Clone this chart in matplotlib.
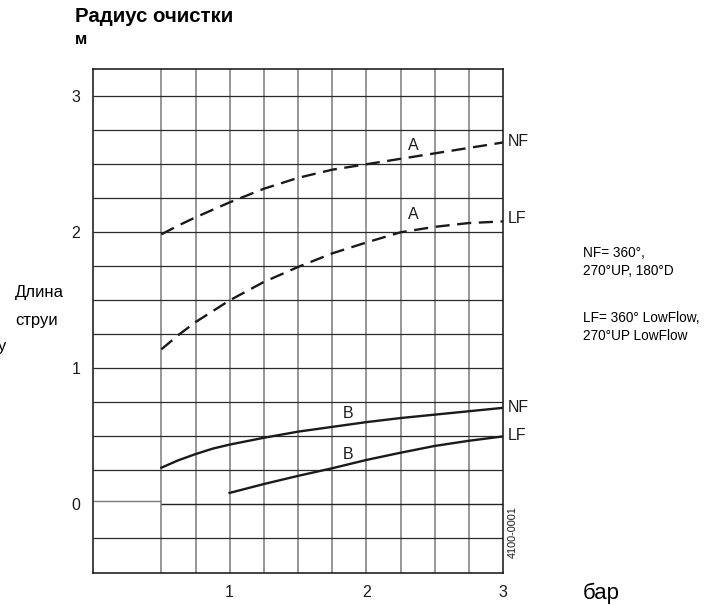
import numpy as np
import matplotlib.pyplot as plt

plt.rcParams['font.family'] = ['Liberation Sans', 'DejaVu Sans']

# --- data (pressure in bar, throw radius in m) ---
a_nf_x = [0.5, 0.625, 0.75, 1.0, 1.25, 1.5, 1.75, 2.0, 2.25, 2.5, 2.75, 3.0]
a_nf_y = [1.985, 2.05, 2.11, 2.22, 2.32, 2.40, 2.46, 2.50, 2.54, 2.58, 2.62, 2.66]

a_lf_x = [0.5, 0.625, 0.75, 1.0, 1.25, 1.5, 1.75, 2.0, 2.25, 2.5, 2.75, 3.0]
a_lf_y = [1.14, 1.245, 1.34, 1.50, 1.635, 1.745, 1.845, 1.925, 2.0, 2.04, 2.068, 2.08]

b_nf_x = [0.5, 0.625, 0.75, 0.875, 1.0, 1.25, 1.5, 1.75, 2.0, 2.25, 2.5, 2.75, 3.0]
b_nf_y = [0.27, 0.325, 0.37, 0.41, 0.44, 0.49, 0.535, 0.57, 0.605, 0.635,
          0.66, 0.685, 0.71]

b_lf_x = [1.0, 1.25, 1.5, 1.75, 2.0, 2.25, 2.5, 2.75, 3.0]
b_lf_y = [0.085, 0.15, 0.21, 0.266, 0.327, 0.38, 0.43, 0.468, 0.50]

x_ticks = [1, 2, 3]
y_ticks = [0, 1, 2, 3]
v_grid = [0.5, 0.75, 1.0, 1.25, 1.5, 1.75, 2.0, 2.25, 2.5, 2.75]
h_grid = [-0.25, 0.0, 0.25, 0.5, 0.75, 1.0, 1.25, 1.5, 1.75, 2.0,
          2.25, 2.5, 2.75, 3.0]

fig = plt.figure(figsize=(7.26, 6.05), dpi=100)
ax = fig.add_axes([93 / 726, 1 - 572.5 / 605, 410 / 726, 503.5 / 605])
ax.set_xlim(0, 3)
ax.set_ylim(-0.5, 3.2)

# grid: no vertical lines left of 0.5, zero line is offset in left cell
ax.vlines(v_grid, -0.5, 3.2, colors='#7a7a7a', lw=1.1, zorder=1)
for h in h_grid:
    if h == 0.0:
        ax.hlines(0.0, 0.5, 3, colors='#222222', lw=1.0, zorder=1)
        ax.hlines(0.022, 0, 0.5, colors='#7a7a7a', lw=1.0, zorder=1)
    else:
        ax.hlines(h, 0, 3, colors='#2a2a2a', lw=0.9, zorder=1)

dash = dict(color='#1a1a1a', lw=1.7, ls=(0, (6, 3.2)), zorder=3)
solid = dict(color='#1a1a1a', lw=1.7, zorder=3)
ax.plot(a_nf_x, a_nf_y, **dash)
ax.plot(a_lf_x, a_lf_y, **dash)
ax.plot(b_nf_x, b_nf_y, **solid)
ax.plot(b_lf_x, b_lf_y, **solid)

lab = dict(fontsize=11.5, color='#1a1a1a', va='center')
ax.text(2.345, 2.64, 'A', ha='center', **lab)
ax.text(2.345, 2.13, 'A', ha='center', **lab)
ax.text(1.865, 0.67, 'B', ha='center', **lab)
ax.text(1.865, 0.37, 'B', ha='center', **lab)
ax.text(3.035, 2.665, 'NF', ha='left', clip_on=False, **lab)
ax.text(3.035, 2.10, 'LF', ha='left', clip_on=False, **lab)
ax.text(3.035, 0.71, 'NF', ha='left', clip_on=False, **lab)
ax.text(3.035, 0.51, 'LF', ha='left', clip_on=False, **lab)
ax.text(3.075, -0.2, '4100-0001', rotation=90, fontsize=7.8,
        ha='center', va='center', color='#1a1a1a', clip_on=False)

for s in ax.spines.values():
    s.set_color('#111111')
    s.set_linewidth(1.1)

ax.set_xticks(x_ticks)
ax.set_yticks(y_ticks)
ax.tick_params(length=0, labelsize=11.5, colors='#1a1a1a')
ax.tick_params(axis='x', pad=9)
ax.tick_params(axis='y', pad=9)

fig.text(75 / 726, 1 - 17 / 605, 'Радиус очистки', fontsize=14.7,
         fontweight='bold', ha='left', va='center')
fig.text(75 / 726, 1 - 39 / 605, 'м', fontsize=12, fontweight='bold',
         ha='left', va='center')
fig.text(15 / 726, 1 - 292 / 605, 'Длина', fontsize=12, ha='left', va='center')
fig.text(15 / 726, 1 - 320 / 605, 'струи', fontsize=12, ha='left', va='center')
fig.text(6 / 726, 1 - 346 / 605, 'у', fontsize=12, ha='right', va='center')
fig.text(583 / 726, 1 - 593 / 605, 'бар', fontsize=16, ha='left', va='center')
fig.text(583 / 726, 1 - 262 / 605, 'NF= 360°,\n270°UP, 180°D', fontsize=9.8,
         ha='left', va='center', linespacing=1.3)
fig.text(583 / 726, 1 - 327 / 605, 'LF= 360° LowFlow,\n270°UP LowFlow',
         fontsize=9.8, ha='left', va='center', linespacing=1.3)

fig.savefig('out.png', dpi=100)
